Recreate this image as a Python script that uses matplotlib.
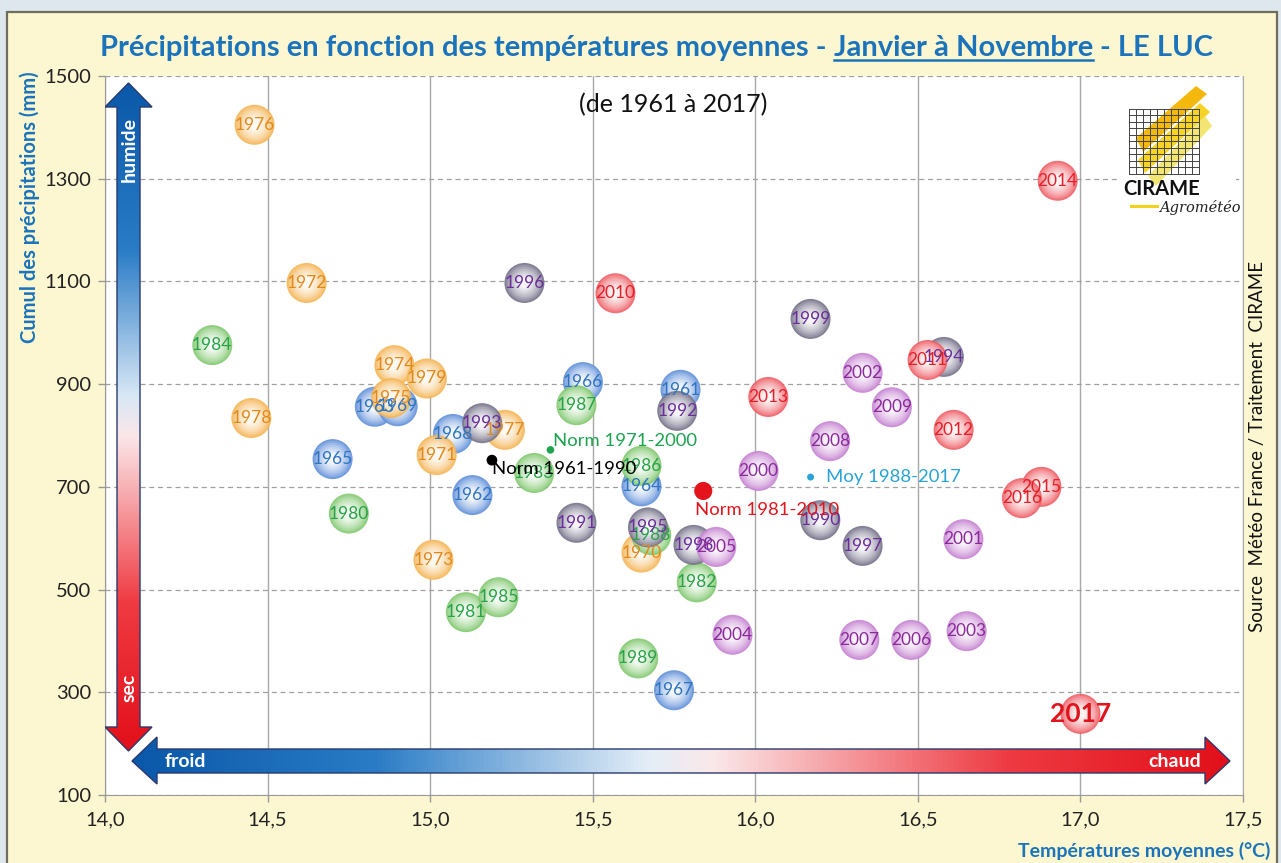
import numpy as np
import matplotlib
matplotlib.use("Agg")
import matplotlib.pyplot as plt
from matplotlib.patches import Polygon, Rectangle
from matplotlib.colors import LinearSegmentedColormap, to_rgb
from matplotlib.ticker import FuncFormatter

plt.rcParams['font.family'] = ['Lato', 'DejaVu Sans']

# ---------------- data ----------------
years = list(range(1961, 2018))
temps = [15.77, 15.13, 14.83, 15.65, 14.70, 15.47, 15.75, 15.07, 14.90,   # 1961-69
         15.65, 15.02, 14.62, 15.01, 14.89, 14.88, 14.46, 15.23, 14.45, 14.99,  # 1970-79
         14.75, 15.11, 15.82, 15.32, 14.33, 15.21, 15.65, 15.45, 15.68, 15.64,  # 1980-89
         16.20, 15.45, 15.76, 15.16, 16.58, 15.67, 15.29, 16.33, 15.81, 16.17,  # 1990-99
         16.01, 16.64, 16.33, 16.65, 15.93, 15.88, 16.48, 16.32, 16.23, 16.42,  # 2000-09
         15.57, 16.53, 16.61, 16.04, 16.93, 16.88, 16.82, 17.00]                # 2010-17
precips = [889, 684, 856, 701, 754, 904, 304, 803, 857,
           572, 762, 1097, 558, 937, 873, 1405, 811, 834, 911,
           648, 456, 514, 727, 976, 485, 741, 859, 606, 366,
           635, 630, 848, 824, 953, 621, 1097, 585, 587, 1027,
           731, 598, 922, 419, 412, 583, 402, 402, 789, 855,
           1077, 947, 811, 875, 1296, 700, 678, 258]

norm_labels = ["Norm 1961-1990", "Norm 1971-2000", "Norm 1981-2010", "Moy 1988-2017"]
norm_temps = [15.19, 15.37, 15.84, 16.17]
norm_precips = [752, 772, 692, 719]

decades = [1960, 1970, 1980, 1990, 2000, 2010]
rim_colors = ['#5a8bd8', '#f5b24e', '#7cc66a', '#6f6c84', '#c47ed0', '#ee5860']
txt_colors = ['#2e74c0', '#e08a1e', '#27a249', '#6a2e9a', '#8a2a9a', '#e3202a']
norm_colors = ['#000000', '#1ea350', '#e3141c', '#29a3d6']
norm_sizes = [60, 30, 170, 25]

xticks = [14.0, 14.5, 15.0, 15.5, 16.0, 16.5, 17.0, 17.5]
yticks = [100, 300, 500, 700, 900, 1100, 1300, 1500]

W, H = 1281, 863
fig = plt.figure(figsize=(W / 100, H / 100), dpi=100)
fig.patch.set_facecolor('#dfe7ee')
fig.add_artist(Rectangle((7 / W, -0.01), (1277 - 7) / W, (H - 12) / H + 0.01,
                         transform=fig.transFigure, facecolor='#fcf7d0',
                         edgecolor='#6e6e5c', lw=1.6, zorder=0))

L, R, T, B = 105, 1243, 76, 795
ax = fig.add_axes([L / W, 1 - B / H, (R - L) / W, (B - T) / H])
ax.set_facecolor('white')
ax.set_zorder(1)


def afx(px):
    return (px - L) / (R - L)


def afy(py):
    return (B - py) / (B - T)


# grid
ax.set_xlim(14.0, 17.5)
ax.set_ylim(100, 1500)
ax.set_xticks(xticks)
ax.set_yticks(yticks)
ax.xaxis.set_major_formatter(FuncFormatter(lambda v, p: f"{v:.1f}".replace('.', ',')))
ax.yaxis.set_major_formatter(FuncFormatter(lambda v, p: f"{int(v)}"))
ax.grid(axis='x', color='#a8a8a8', lw=1.0, ls='-', zorder=0)
ax.grid(axis='y', color='#a0a0a0', lw=0.9, ls=(0, (4, 3)), zorder=0)
ax.set_axisbelow(True)
ax.spines['top'].set_visible(False)
ax.spines['right'].set_color('#a8a8a8')
ax.spines['left'].set_color('#9a9a9a')
ax.spines['bottom'].set_color('#9a9a9a')
ax.tick_params(axis='both', colors='#9a9a9a', labelcolor='#222222', labelsize=14.5,
               length=5, width=1)
ax.tick_params(axis='x', pad=7)
ax.tick_params(axis='y', pad=5)

# ---------------- bubbles ----------------
S0 = 830


def mix(c, w, t):
    c = np.array(to_rgb(c))
    w = np.array(to_rgb(w))
    return tuple(c * (1 - t) + w * t)


z = 3.0
for yr, tx, py in zip(years, temps, precips):
    di = decades.index(yr // 10 * 10)
    rim = rim_colors[di]
    n = 9
    for i in range(n):
        f = 1.0 - 0.75 * i / (n - 1)
        t = (i / (n - 1)) ** 0.65 * 0.93
        ax.scatter([tx], [py], s=S0 * f * f, color=mix(rim, 'white', t + 0.05 * (1 - t)),
                   edgecolors='none', alpha=0.9 if i == 0 else 1.0, zorder=z)
        z += 0.001
    z += 0.01
    if yr == 2017:
        ax.annotate(str(yr), (tx, py), ha='center', va='center', fontsize=19,
                    fontweight='bold', color='#e0141c', zorder=20)
    else:
        ax.annotate(str(yr), (tx, py), ha='center', va='center', fontsize=12.5,
                    color=txt_colors[di], zorder=20)

# norms
norm_offsets = [(0, -6.5), (2, 6.5), (-6, -13.5), (11, 0)]
for lab, tx, py, c, s, off in zip(norm_labels, norm_temps, norm_precips,
                                  norm_colors, norm_sizes, norm_offsets):
    ax.scatter([tx], [py], s=s, color=c, zorder=21, edgecolors='none')
    ax.annotate(lab, (tx, py), xytext=off, textcoords='offset points',
                ha='left', va='center', fontsize=13.3, color=c, zorder=22)

# ---------------- arrows ----------------
cmap_v = LinearSegmentedColormap.from_list('v', [
    (0.0, '#0a58a9'), (0.25, '#2a7cc6'), (0.47, '#d9e8f6'), (0.53, '#fbe6e7'),
    (0.78, '#ef3a42'), (1.0, '#e2101a')])
cmap_h = LinearSegmentedColormap.from_list('h', [
    (0.0, '#0a58a9'), (0.22, '#2a7cc6'), (0.47, '#e4eef8'), (0.53, '#fbe8e9'),
    (0.8, '#ee3a42'), (1.0, '#e2101a')])

# vertical double arrow
vx0, vx1, vh0, vh1 = 117, 140, 105, 152
vtop, vtb, vbb, vbot = 83, 107, 727, 751
vpts = [(vx0 + vx1) / 2, vtop], [vh1, vtb], [vx1, vtb], [vx1, vbb], [vh1, vbb], \
       [(vx0 + vx1) / 2, vbot], [vh0, vbb], [vx0, vbb], [vx0, vtb], [vh0, vtb]
vpoly = Polygon([(afx(p[0]), afy(p[1])) for p in vpts], closed=True,
                transform=ax.transAxes, facecolor='none', edgecolor='#2a3a6e',
                lw=1.0, zorder=25)
ax.add_patch(vpoly)
grad = np.linspace(0, 1, 256).reshape(-1, 1)
im = ax.imshow(grad, cmap=cmap_v, aspect='auto', origin='upper',
               extent=(afx(vh0), afx(vh1), afy(vbot), afy(vtop)),
               transform=ax.transAxes, zorder=24, interpolation='bilinear')
im.set_clip_path(vpoly)

# horizontal double arrow
hy0, hy1, hh0, hh1 = 749, 773, 737, 784
hl, hlb, hrb, hr = 132, 157, 1205, 1230
hpts = [hl, (hy0 + hy1) / 2], [hlb, hh0], [hlb, hy0], [hrb, hy0], [hrb, hh0], \
       [hr, (hy0 + hy1) / 2], [hrb, hh1], [hrb, hy1], [hlb, hy1], [hlb, hh1]
hpoly = Polygon([(afx(p[0]), afy(p[1])) for p in hpts], closed=True,
                transform=ax.transAxes, facecolor='none', edgecolor='#2a3a6e',
                lw=1.0, zorder=25)
ax.add_patch(hpoly)
gradh = np.linspace(0, 1, 256).reshape(1, -1)
imh = ax.imshow(gradh, cmap=cmap_h, aspect='auto', origin='upper',
                extent=(afx(hl), afx(hr), afy(hh1), afy(hh0)),
                transform=ax.transAxes, zorder=24, interpolation='bilinear')
imh.set_clip_path(hpoly)

ax.set_xlim(14.0, 17.5)
ax.set_ylim(100, 1500)

ax.text(afx(129), afy(150), 'humide', transform=ax.transAxes, rotation=90,
        ha='center', va='center', color='white', fontsize=14, fontweight='bold', zorder=26)
ax.text(afx(129), afy(688), 'sec', transform=ax.transAxes, rotation=90,
        ha='center', va='center', color='white', fontsize=14, fontweight='bold', zorder=26)
ax.text(afx(185), afy(761), 'froid', transform=ax.transAxes,
        ha='center', va='center', color='white', fontsize=14, fontweight='bold', zorder=26)
ax.text(afx(1175), afy(761), 'chaud', transform=ax.transAxes,
        ha='center', va='center', color='white', fontsize=14, fontweight='bold', zorder=26)

# subtitle
ax.text(afx(673), afy(105), '(de 1961 à 2017)', transform=ax.transAxes,
        ha='center', va='center', fontsize=18, color='#111111', zorder=26)

# ---------------- labels around ----------------
blue = '#1b73bb'
fig.text(30 / W, 1 - 207 / H, 'Cumul des précipitations (mm)', rotation=90,
         ha='center', va='center', fontsize=14.5, fontweight='bold', color=blue)
fig.text(1270 / W, 1 - 851 / H, 'Températures moyennes (°C)',
         ha='right', va='center', fontsize=14, fontweight='bold', color=blue)
fig.text(1257 / W, 1 - 446 / H, 'Source  Météo France / Traitement  CIRAME',
         rotation=90, ha='center', va='center', fontsize=13.5, color='#111111')

# title with underlined middle part
r = fig.canvas.get_renderer()
parts = ['Précipitations en fonction des températures moyennes -',
         'Janvier à Novembre', '- LE LUC']
tfs = 21
tobjs = [fig.text(0, 0, p, ha='left', va='baseline', fontsize=tfs,
                  fontweight='bold', color=blue) for p in parts]
tmp1 = fig.text(0, 0, 'xx', fontsize=tfs, fontweight='bold')
tmp2 = fig.text(0, 0, 'x x', fontsize=tfs, fontweight='bold')
sp = tmp2.get_window_extent(r).width - tmp1.get_window_extent(r).width
tmp1.remove()
tmp2.remove()
widths = [t.get_window_extent(r).width for t in tobjs]
total = sum(widths) + 2 * sp
cx = 657
x0 = cx - total / 2
xs = []
for t, w in zip(tobjs, widths):
    xs.append(x0)
    t.set_x(x0 / W)
    x0 += w + sp
ty_base = 1 - 56 / H
for t in tobjs:
    t.set_y(ty_base)
fig.add_artist(plt.Line2D([xs[1] / W, (xs[1] + widths[1]) / W],
                          [ty_base - 4 / H, ty_base - 4 / H],
                          color=blue, lw=1.8, transform=fig.transFigure))

# ---------------- logo ----------------
ov = fig.add_axes([0, 0, 1, 1])
ov.set_xlim(0, W)
ov.set_ylim(H, 0)
ov.axis('off')
ov.set_zorder(5)
ov.patch.set_alpha(0)
ov.add_patch(Rectangle((1118, 82), 118, 134, facecolor='white', edgecolor='none'))
gx0, gx1, gy0, gy1 = 1129, 1199, 109, 174
for g in np.linspace(gx0, gx1, 11):
    ov.plot([g, g], [gy0, gy1], color='#444444', lw=0.7)
for g in np.linspace(gy0, gy1, 11):
    ov.plot([gx0, gx1], [g, g], color='#444444', lw=0.7)
stripe_cols = ['#f4b400', '#f7d11a', '#f2e46a']
stripes = [
    [(1136, 138), (1196, 86), (1207, 94), (1143, 152)],
    [(1138, 160), (1200, 103), (1210, 112), (1145, 173)],
    [(1148, 176), (1205, 116), (1212, 126), (1156, 186)],
]
for sc, st in zip(stripe_cols, stripes):
    ov.add_patch(Polygon(st, closed=True, facecolor=sc, edgecolor='none', alpha=0.95))
ov.text(1162, 189, 'CIRAME', ha='center', va='center', fontsize=14.5,
        fontweight='bold', color='#111111')
ov.plot([1131, 1157], [206, 206], color='#f2d21a', lw=2.2)
ov.text(1200, 207, 'Agrométéo', ha='center', va='center', fontsize=10.5,
        style='italic', color='#222222', family=['DejaVu Serif'])

fig.savefig('out.png', dpi=100, facecolor=fig.get_facecolor())
